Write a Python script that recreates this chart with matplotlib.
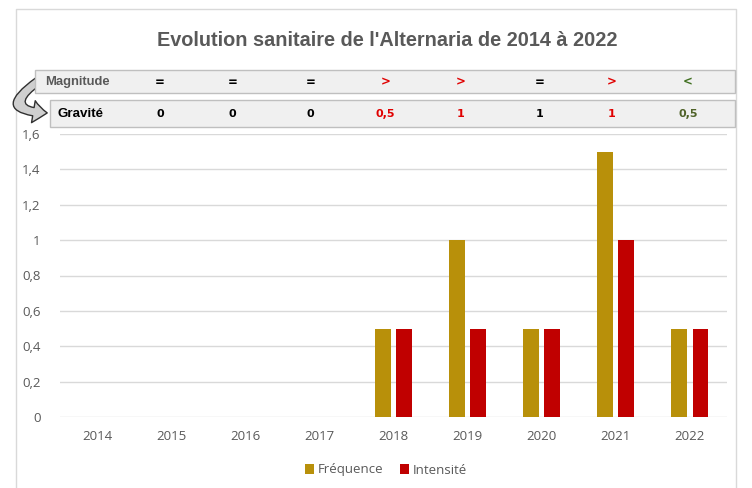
import matplotlib
matplotlib.use("Agg")
import matplotlib.pyplot as plt
from matplotlib.patches import Rectangle, FancyArrowPatch
from matplotlib.transforms import blended_transform_factory

years = ["2014", "2015", "2016", "2017", "2018", "2019", "2020", "2021", "2022"]
frequence = [0, 0, 0, 0, 0.5, 1.0, 0.5, 1.5, 0.5]
intensite = [0, 0, 0, 0, 0.5, 0.5, 0.5, 1.0, 0.5]
magnitude = ["=", "=", "=", ">", ">", "=", ">", "<"]
gravite = [0, 0, 0, 0.5, 1, 1, 1, 0.5]
gravite_colors = ["black", "black", "black", "red", "red", "black", "red", "green"]
title = "Evolution sanitaire de l'Alternaria de 2014 à 2022"

W, H = 752, 488
fig = plt.figure(figsize=(W / 100, H / 100), dpi=100)
fig.patch.set_facecolor("white")

def px(x, y):
    return x / W, 1 - y / H

# plot area
left, right, top, bottom = 60, 727, 134, 417
ax = fig.add_axes([left / W, 1 - bottom / H, (right - left) / W, (bottom - top) / H])
ax.set_facecolor("white")
n = len(years)
xs = list(range(n))
bw = 0.215
off = 0.142
cf = "#B8900A"
ci = "#C00000"
ax.bar([x - off for x in xs], frequence, width=bw, color=cf, zorder=3, label="Fréquence")
ax.bar([x + off for x in xs], intensite, width=bw, color=ci, zorder=3, label="Intensité")
ax.set_xlim(-0.5, n - 0.5)
ax.set_ylim(0, 1.6)
yt = [0, 0.2, 0.4, 0.6, 0.8, 1.0, 1.2, 1.4, 1.6]
ax.set_yticks(yt)
ax.set_yticklabels([("%g" % v).replace(".", ",") for v in yt])
ax.set_xticks(xs)
ax.set_xticklabels(years)
ax.grid(axis="y", color="#D9D9D9", linewidth=1, zorder=0)
for s in ax.spines.values():
    s.set_visible(False)
ax.tick_params(axis="both", length=0, colors="#595959", labelsize=9.5)
ax.tick_params(axis="y", pad=14)
ax.tick_params(axis="x", pad=9)
for lab in ax.get_xticklabels() + ax.get_yticklabels():
    lab.set_fontfamily("Open Sans")

leg = fig.legend(loc="center", bbox_to_anchor=px(386, 470), ncol=2, frameon=False,
                 handlelength=0.7, handleheight=0.7, handletextpad=0.3, columnspacing=1.2,
                 prop={"family": "Open Sans", "size": 9.5})
for t in leg.get_texts():
    t.set_color("#595959")

# outer frame
frame_ax = fig.add_axes([0, 0, 1, 1], zorder=-1)
frame_ax.set_xlim(0, W)
frame_ax.set_ylim(H, 0)
frame_ax.axis("off")
frame_ax.plot([16, 16, 736, 736], [H, 9, 9, H], color="#D9D9D9", lw=1)

# overlay axes for table
ov = fig.add_axes([0, 0, 1, 1], zorder=5)
ov.set_xlim(0, W)
ov.set_ylim(H, 0)
ov.axis("off")

arr = FancyArrowPatch((40, 80), (50, 113), connectionstyle="arc3,rad=1.55",
                      arrowstyle="simple,head_width=16,head_length=10,tail_width=6",
                      facecolor="#CFCFCF", edgecolor="#303030", lw=1.0, mutation_scale=1,
                      zorder=1)
ov.add_patch(arr)
ov.add_patch(Rectangle((35, 70), 700, 23, facecolor="#F0F0F0", edgecolor="#BFBFBF", lw=1, zorder=2))
ov.add_patch(Rectangle((50, 100), 685, 27, facecolor="#F0F0F0", edgecolor="#BFBFBF", lw=1, zorder=2))

ov.text(387, 41, title, ha="center", va="center", fontsize=14.3,
        fontweight="bold", color="#595959", family="Liberation Sans")

ov.text(45, 82, "Magnitude", ha="left", va="center", fontsize=9.4,
        fontweight="bold", color="#595959", family="Liberation Sans", zorder=3)
ov.text(58, 114, "Gravité", ha="left", va="center", fontsize=9.6,
        fontweight="bold", color="black", family="Liberation Sans", zorder=3)

cmap = {"=": "black", ">": "#E00000", "<": "#3F6F1F", "black": "black",
        "red": "#E00000", "green": "#4F6228"}
shifts = [-11, -13, -9, -8, -7, -2, -4, -2]
tr = blended_transform_factory(ax.transData, ov.transData)
for i, (m, g, gc) in enumerate(zip(magnitude, gravite, gravite_colors)):
    xi = i + 1
    dx = shifts[i] / ((right - left) / n)
    ov.text(xi + dx, 82, m, transform=tr, ha="center", va="center", zorder=3,
            fontsize=8.5, fontweight="bold", color=cmap[m], family="DejaVu Sans")
    ov.text(xi + dx, 114, ("%g" % g).replace(".", ","), transform=tr, zorder=3,
            ha="center", va="center", fontsize=8, fontweight="bold",
            color=cmap[gc], family="DejaVu Sans")

fig.savefig("out.png", dpi=100)
